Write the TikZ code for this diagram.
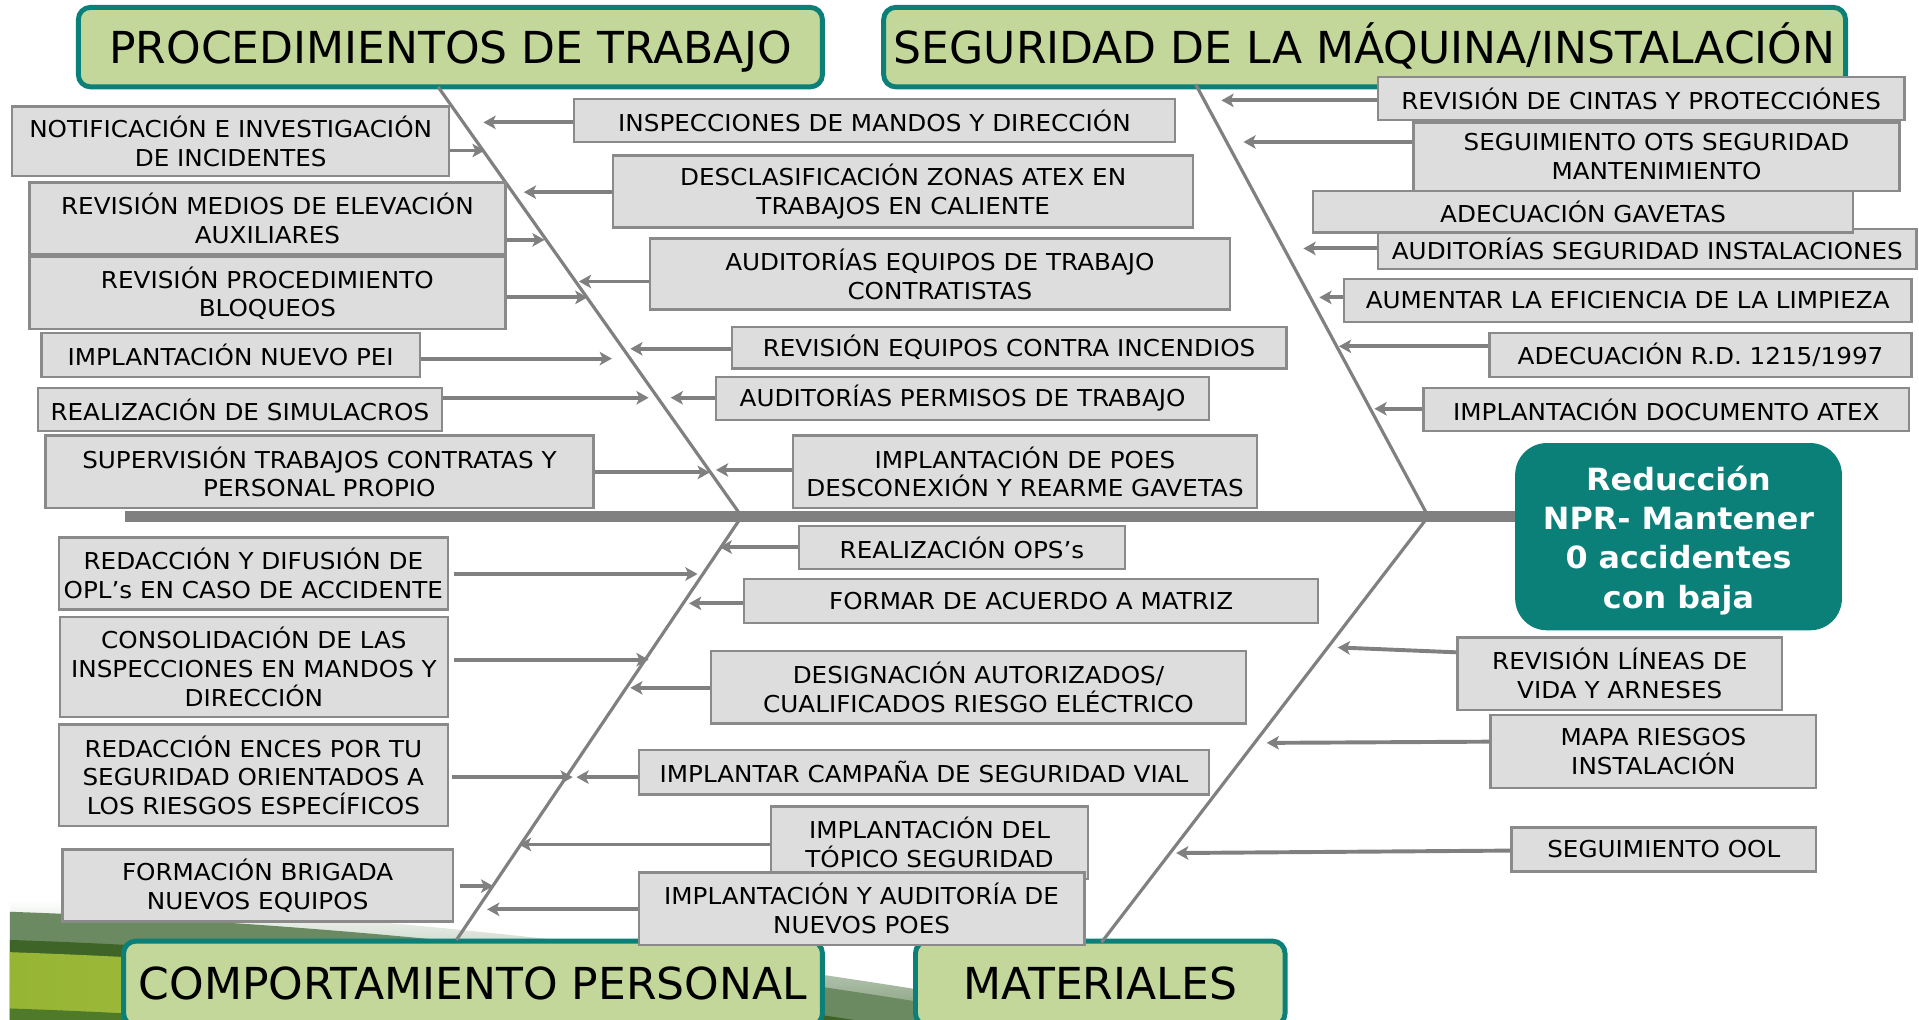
\documentclass[tikz,border=0pt]{standalone}
\usepackage{fontspec}
\setmainfont{DejaVu Sans}
\newfontfamily\boxfont{DejaVu Sans}[FakeStretch=1.06]
\newfontfamily\goalfont{DejaVu Sans}[FakeStretch=1.04]
\usetikzlibrary{arrows.meta}
\definecolor{hdrfill}{HTML}{C4D79B}
\definecolor{tealc}{HTML}{0A8079}
\definecolor{boxfill}{HTML}{DDDDDD}
\definecolor{boxline}{HTML}{8A8A8A}
\definecolor{lineg}{HTML}{808080}
\definecolor{swa}{HTML}{6B8A62}
\definecolor{swb}{HTML}{3F6428}
\definecolor{swbright}{HTML}{97B535}
\definecolor{swlight}{HTML}{B5CC5A}
\definecolor{swc}{HTML}{4F7A2A}
\newcommand\mybox[6]{\node[gbox,minimum width={(#4-#2)*1pt},minimum height={(#5-#3)*1pt}] (#1) at ({(#2+#4)/2},{(#3+#5)/2}) {#6};}
\newcommand\myhdr[6]{\node[hdr,minimum width={(#4-#2)*1pt},minimum height={(#5-#3)*1pt}] (#1) at ({(#2+#4)/2},{(#3+#5)/2}) {#6};}
\begin{document}
\begin{tikzpicture}[x=1pt,y=-1pt,
  gbox/.style={draw=boxline,fill=boxfill,line width=2pt,inner sep=0pt,align=center,
    font=\boxfont\fontsize{19}{23.5}\selectfont},
  hdr/.style={draw=tealc,fill=hdrfill,line width=4pt,rounded corners=10pt,inner sep=0pt,
    text height=26pt,text depth=0pt,font=\fontsize{36}{40}\selectfont},
  goalst/.style={fill=tealc,rounded corners=26pt,inner sep=0pt},
  goaltxt/.style={align=center,text=white,inner sep=0pt,
    font=\goalfont\bfseries\fontsize{25}{32}\selectfont},
  bone/.style={draw=lineg,line width=2.6pt},
  spine/.style={draw=lineg,line width=8.5pt},
  arr/.style={draw=lineg,line width=3.2pt,-{Stealth[length=10pt,width=11pt,inset=2.5pt]}}]
\useasboundingbox (0,0) rectangle (1568,833);
% background swoosh
\begin{scope}
\clip (8,0) rectangle (1568,833);
\shade[top color=white,bottom color=swa] (8,735) .. controls (300,745) and (600,778) .. (950,843) -- (950,850) -- (8,850) -- cycle;
\fill[swa] (8,745) .. controls (300,755) and (600,788) .. (950,853) -- (8,853) -- cycle;
\fill[swb] (8,768) .. controls (300,778) and (600,811) .. (950,876) -- (8,876) -- cycle;
\shade[left color=swbright,right color=swlight] (8,778) .. controls (300,788) and (600,821) .. (950,886) -- (8,886) -- cycle;
\fill[swc] (8,824) .. controls (300,834) and (600,867) .. (950,932) -- (8,932) -- cycle;
\end{scope}
% headers
\myhdr{H1}{64}{6}{672}{71}{PROCEDIMIENTOS DE TRABAJO}
\myhdr{H2}{722}{6}{1508}{71}{SEGURIDAD DE LA MÁQUINA/INSTALACIÓN}
\begin{scope}
\clip (0,0) rectangle (1568,833);
\myhdr{H3}{101}{769}{672}{838}{COMPORTAMIENTO PERSONAL}
\myhdr{H4}{748}{769}{1050}{838}{MATERIALES}
\end{scope}
% goal
\node[goalst,minimum width=267pt,minimum height=153pt] (goal) at (1371.5,438.5) {};
\node[goaltxt] (goaltext) at ([yshift=-3pt]goal.center)
  {Reducción\\NPR- Mantener\\0 accidentes\\con baja};
% bones and spine
\coordinate (ulT) at (358,71);
\coordinate (urT) at (977,69);
\coordinate (llB) at (373,768);
\coordinate (lrB) at (900,770);
\coordinate (jL) at (606,422);
\coordinate (jR) at (1167,422);
\coordinate (sp0) at (102,422);
\draw[bone] (ulT) -- (jL) -- (llB);
\draw[bone] (urT) -- (jR) -- (lrB);
\draw[spine] (sp0) -- (goal.west |- sp0);
% boxes upper left
\mybox{A1}{10}{87}{367}{144}{NOTIFICACIÓN E INVESTIGACIÓN\\DE INCIDENTES}
\mybox{A2}{24}{149}{413}{208}{REVISIÓN MEDIOS DE ELEVACIÓN\\AUXILIARES}
\mybox{A3}{24}{210}{413}{269}{REVISIÓN PROCEDIMIENTO\\BLOQUEOS}
\mybox{A4}{34}{272}{343}{308}{IMPLANTACIÓN NUEVO PEI}
\mybox{A5}{31}{317}{361}{352}{REALIZACIÓN DE SIMULACROS}
\mybox{A6}{37}{356}{485}{415}{SUPERVISIÓN TRABAJOS CONTRATAS Y\\PERSONAL PROPIO}
\mybox{B1}{469}{81}{960}{116}{INSPECCIONES DE MANDOS Y DIRECCIÓN}
\mybox{B2}{501}{127}{975}{186}{DESCLASIFICACIÓN ZONAS ATEX EN\\TRABAJOS EN CALIENTE}
\mybox{B3}{531}{195}{1005}{253}{AUDITORÍAS EQUIPOS DE TRABAJO\\CONTRATISTAS}
\mybox{B4}{598}{267}{1051}{301}{REVISIÓN EQUIPOS CONTRA INCENDIOS}
\mybox{B5}{585}{308}{988}{343}{AUDITORÍAS PERMISOS DE TRABAJO}
\mybox{B6}{648}{356}{1027}{415}{IMPLANTACIÓN DE POES\\DESCONEXIÓN Y REARME GAVETAS}
% upper right
\mybox{C1}{1126}{63}{1556}{98}{REVISIÓN DE CINTAS Y PROTECCIÓNES}
\mybox{C2}{1155}{100}{1552}{156}{SEGUIMIENTO OTS SEGURIDAD\\MANTENIMIENTO}
\mybox{C4}{1126}{187}{1566}{220}{AUDITORÍAS SEGURIDAD INSTALACIONES}
\mybox{C3}{1073}{156}{1514}{190}{ADECUACIÓN GAVETAS}
\mybox{C5}{1098}{228}{1562}{263}{AUMENTAR LA EFICIENCIA DE LA LIMPIEZA}
\mybox{C6}{1217}{272}{1562}{308}{ADECUACIÓN R.D. 1215/1997}
\mybox{C7}{1163}{317}{1560}{352}{IMPLANTACIÓN DOCUMENTO ATEX}
% lower left
\mybox{D1}{48}{439}{366}{498}{REDACCIÓN Y DIFUSIÓN DE\\OPL’s EN CASO DE ACCIDENTE}
\mybox{D2}{49}{504}{366}{586}{CONSOLIDACIÓN DE LAS\\INSPECCIONES EN MANDOS Y\\DIRECCIÓN}
\mybox{D3}{48}{592}{366}{675}{REDACCIÓN ENCES POR TU\\SEGURIDAD ORIENTADOS A\\LOS RIESGOS ESPECÍFICOS}
\mybox{D4}{51}{694}{370}{753}{FORMACIÓN BRIGADA\\NUEVOS EQUIPOS}
\mybox{E1}{653}{430}{919}{465}{REALIZACIÓN OPS’s}
\mybox{E2}{608}{473}{1077}{509}{FORMAR DE ACUERDO A MATRIZ}
\mybox{E3}{581}{532}{1018}{591}{DESIGNACIÓN AUTORIZADOS/\\CUALIFICADOS RIESGO ELÉCTRICO}
\mybox{E4}{522}{613}{988}{649}{IMPLANTAR CAMPAÑA DE SEGURIDAD VIAL}
\mybox{E5}{630}{659}{889}{718}{IMPLANTACIÓN DEL\\TÓPICO SEGURIDAD}
\mybox{E6}{522}{713}{886}{772}{IMPLANTACIÓN Y AUDITORÍA DE\\NUEVOS POES}
% lower right
\mybox{F1}{1191}{521}{1456}{580}{REVISIÓN LÍNEAS DE\\VIDA Y ARNESES}
\mybox{F2}{1218}{584}{1484}{644}{MAPA RIESGOS\\INSTALACIÓN}
\mybox{F3}{1235}{676}{1484}{712}{SEGUIMIENTO OOL}
% arrows
\draw[arr] (A1.east |- 0,123) -- (396,123);
\draw[arr] (A2.east |- 0,196) -- (445,196);
\draw[arr] (A3.east |- 0,243) -- (480,243);
\draw[arr] (A4.east |- 0,293) -- (500,293);
\draw[arr] (A5.east |- 0,325) -- (530,325);
\draw[arr] (A6.east |- 0,386) -- (580,386);
\draw[arr] (B1.west |- 0,100) -- (395,100);
\draw[arr] (B2.west |- 0,157) -- (428,157);
\draw[arr] (B3.west |- 0,230) -- (473,230);
\draw[arr] (B4.west |- 0,285) -- (515,285);
\draw[arr] (B5.west |- 0,325) -- (548,325);
\draw[arr] (B6.west |- 0,384) -- (585,384);
\draw[arr] (C1.west |- 0,82) -- (998,82);
\draw[arr] (C2.west |- 0,116) -- (1016,116);
\draw[arr] (C4.west |- 0,203) -- (1065,203);
\draw[arr] (C5.west |- 0,243) -- (1078,243);
\draw[arr] (C6.west |- 0,283) -- (1094,283);
\draw[arr] (C7.west |- 0,334) -- (1123,334);
\draw[arr] ([xshift=4pt]D1.east |- 0,469) -- (570,469);
\draw[arr] ([xshift=4pt]D2.east |- 0,539) -- (530,539);
\draw[arr] ([xshift=2pt]D3.east |- 0,635) -- (468,635);
\draw[arr] ([xshift=5pt]D4.east |- 0,724) -- (403,724);
\draw[arr] (E1.west |- 0,447) -- (588,447);
\draw[arr] (E2.west |- 0,493) -- (563,493);
\draw[arr] (E3.west |- 0,562) -- (515,562);
\draw[arr] (E4.west |- 0,635) -- (471,635);
\draw[arr] (E5.west |- 0,690) -- (424,690);
\draw[arr] (E6.west |- 0,743) -- (398,743);
\draw[arr] (F1.west |- 0,533) -- (1093,529);
\draw[arr] (F2.west |- 0,606) -- (1035,607);
\draw[arr] (F3.west |- 0,695) -- (961,697);
\end{tikzpicture}
\end{document}
